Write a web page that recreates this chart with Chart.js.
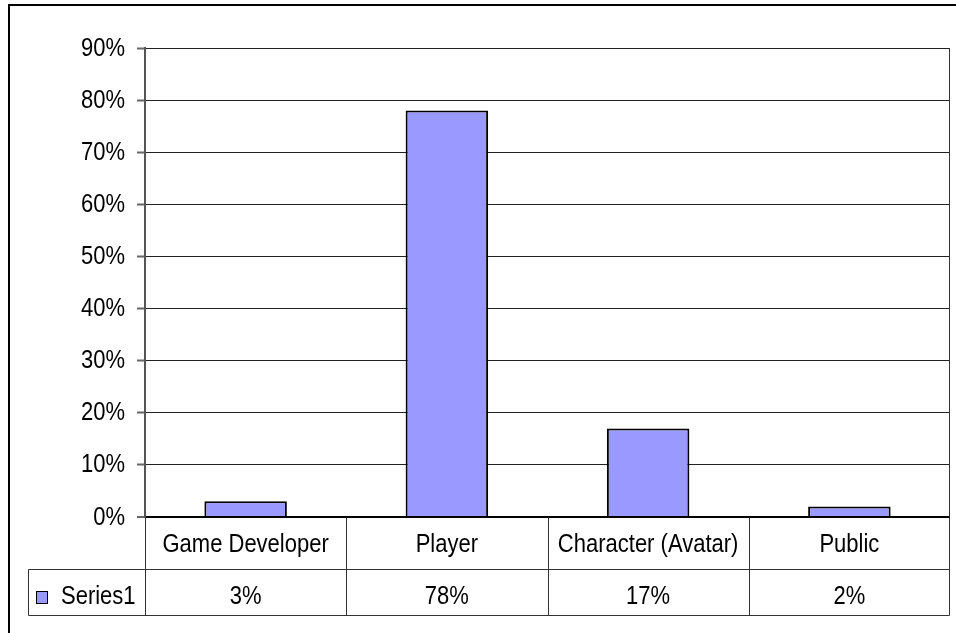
<!DOCTYPE html>
<html>
<head>
<meta charset="utf-8">
<script src="https://cdn.jsdelivr.net/npm/chart.js@4.4.1/dist/chart.umd.min.js"></script>
<style>
  html, body { margin: 0; padding: 0; background: #fff; }
  #wrap { width: 956px; height: 633px; position: relative; }
</style>
</head>
<body>
<div id="wrap"><canvas id="c" width="956" height="633"></canvas></div>
<script>
// Categories, series and axis settings
const categories = ['Game Developer', 'Player', 'Character (Avatar)', 'Public'];
const seriesName = 'Series1';
const shares = [3, 78, 17, 2];
const yMax = 90;
const yStep = 10;

const FONT = '"Liberation Sans", Arial, sans-serif';
const FONT_SIZE = 25;
const TEXT_SX = 0.88;          // slightly condensed lettering
const BAR_FILL = '#9999FF';
const LINE = '#333';

function condensedText(ctx, text, x, y, align) {
  ctx.save();
  ctx.translate(x, y);
  ctx.scale(TEXT_SX, 1);
  ctx.font = FONT_SIZE + 'px ' + FONT;
  ctx.fillStyle = '#000';
  ctx.textAlign = align;
  ctx.textBaseline = 'alphabetic';
  ctx.fillText(text, 0, 0);
  ctx.restore();
}

// Outer frame of the chart object
const framePlugin = {
  id: 'frame',
  beforeDraw(chart) {
    const ctx = chart.ctx;
    ctx.save();
    ctx.fillStyle = '#fff';
    ctx.fillRect(0, 0, chart.width, chart.height);
    ctx.strokeStyle = '#000';
    ctx.lineWidth = 2;
    ctx.strokeRect(9, 5, chart.width + 20, chart.height + 20);
    ctx.restore();
  }
};

// Value-axis labels, placed from the y scale's own ticks
const yLabelsPlugin = {
  id: 'yLabels',
  afterDraw(chart) {
    const y = chart.scales.y;
    const ctx = chart.ctx;
    y.ticks.forEach(t => {
      const py = y.getPixelForValue(t.value);
      condensedText(ctx, t.value + '%', y.right - 20, py + 7.5, 'right');
    });
  }
};

// Data table drawn under the plot: category row and series row
const dataTablePlugin = {
  id: 'dataTable',
  afterDraw(chart) {
    const ctx = chart.ctx;
    const x = chart.scales.x;
    const area = chart.chartArea;
    const top = Math.round(area.bottom) + 0.5;
    const rowH1 = 52;
    const rowH2 = 46;
    const mid = top + rowH1;
    const bottom = mid + rowH2;
    const left = Math.round(area.left) + 0.5;
    const right = Math.round(area.right) - 0.5;
    const keyLeft = 28.5;

    const n = categories.length;
    const bounds = [left];
    for (let i = 0; i < n - 1; i++) {
      bounds.push(Math.round((x.getPixelForValue(i) + x.getPixelForValue(i + 1)) / 2) + 0.5);
    }
    bounds.push(right);

    ctx.save();
    ctx.strokeStyle = LINE;
    ctx.lineWidth = 1;
    ctx.beginPath();
    // horizontal rules
    ctx.moveTo(keyLeft, mid); ctx.lineTo(right, mid);
    ctx.moveTo(keyLeft, bottom); ctx.lineTo(right, bottom);
    // vertical rules
    bounds.forEach(b => { ctx.moveTo(b, top); ctx.lineTo(b, bottom); });
    ctx.moveTo(keyLeft, mid); ctx.lineTo(keyLeft, bottom);
    // plot area right edge
    ctx.moveTo(right, area.top); ctx.lineTo(right, top);
    ctx.stroke();

    for (let i = 0; i < n; i++) {
      const cx = x.getPixelForValue(i);
      condensedText(ctx, categories[i], cx, top + 34, 'center');
      condensedText(ctx, shares[i] + '%', cx, mid + 34, 'center');
    }

    // legend key + series name
    ctx.fillStyle = BAR_FILL;
    ctx.fillRect(36, 591, 12, 13);
    ctx.strokeStyle = '#000';
    ctx.strokeRect(36.5, 591.5, 11, 12);
    condensedText(ctx, seriesName, 61, mid + 34, 'left');
    ctx.restore();
  }
};

new Chart(document.getElementById('c'), {
  type: 'bar',
  data: {
    labels: categories,
    datasets: [{
      label: seriesName,
      data: shares,
      backgroundColor: BAR_FILL,
      borderColor: '#000',
      borderWidth: 2,
      borderSkipped: 'start',
      barPercentage: 0.41,
      categoryPercentage: 1.0
    }]
  },
  options: {
    responsive: false,
    animation: false,
    devicePixelRatio: 1,
    layout: { padding: { top: 48, right: 6, bottom: 116, left: 0 } },
    plugins: {
      legend: { display: false },
      tooltip: { enabled: false },
      title: { display: false }
    },
    scales: {
      x: {
        display: false,
        offset: true,
        grid: { display: false }
      },
      y: {
        min: 0,
        max: yMax,
        afterFit(scale) { scale.width = 145; },
        ticks: {
          stepSize: yStep,
          display: false
        },
        grid: {
          color: ctx => ctx.tick && ctx.tick.value === 0 ? '#000' : '#222',
          lineWidth: ctx => ctx.tick && ctx.tick.value === 0 ? 2 : 1,
          drawTicks: true,
          tickLength: 8,
          tickColor: '#666',
          tickWidth: 2
        },
        border: { display: true, color: '#555', width: 2 }
      }
    }
  },
  plugins: [framePlugin, yLabelsPlugin, dataTablePlugin]
});
</script>
</body>
</html>
